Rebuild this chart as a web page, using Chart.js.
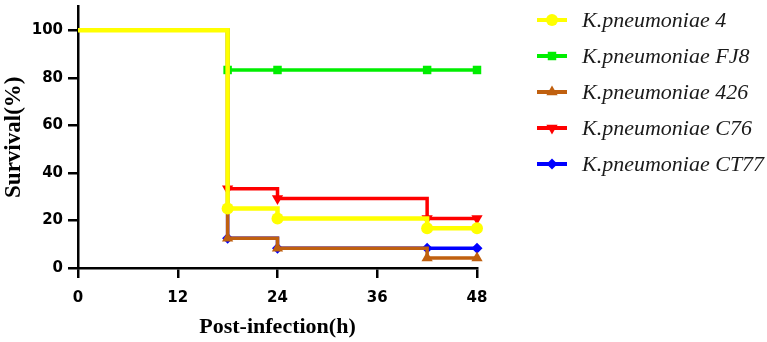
<!DOCTYPE html>
<html>
<head>
<meta charset="utf-8">
<script src="https://cdn.jsdelivr.net/npm/chart.js@4/dist/chart.umd.min.js"></script>
<style>
  html, body { margin: 0; padding: 0; background: #fff; }
  #wrap { width: 767px; height: 342px; position: relative; }
</style>
</head>
<body>
<div id="wrap"><canvas id="chart"></canvas></div>
<script>
/* Kaplan-Meier survival curves, K. pneumoniae strains */
const hours = [0, 18, 24, 42, 48];
const strains = ["K.pneumoniae 4", "K.pneumoniae FJ8", "K.pneumoniae 426", "K.pneumoniae C76", "K.pneumoniae CT77"];
const survival4 = [100, 25, 20.8, 16.7, 16.7];
const survivalFJ8 = [100, 83.3, 83.3, 83.3, 83.3];
const survival426 = [100, 12.5, 8.3, 4.2, 4.2];
const survivalC76 = [100, 33.3, 29.2, 20.8, 20.8];
const survivalCT77 = [100, 12.5, 8.3, 8.3, 8.3];
const xTicks = [0, 12, 24, 36, 48];
const yTicks = [0, 20, 40, 60, 80, 100];

const seriesValues = [survival4, survivalFJ8, survival426, survivalC76, survivalCT77];
const colors = ["#ffff00", "#00ee00", "#c0600f", "#ff0000", "#0000ff"];
const markers = [
  { style: "circle", radius: 6, rotation: 0 },
  { style: "rect", radius: 6, rotation: 0 },
  { style: "triangle", radius: 6.5, rotation: 0 },
  { style: "triangle", radius: 6.5, rotation: 180 },
  { style: "rectRot", radius: 5.5, rotation: 0 },
];

const datasets = strains.map((name, i) => ({
  label: name,
  data: hours.map((h, j) => ({ x: h, y: seriesValues[i][j] })),
  borderColor: colors[i],
  backgroundColor: colors[i],
  borderWidth: i === 0 ? 4.5 : 3.5,
  stepped: "before",
  pointStyle: markers[i].style,
  pointRotation: markers[i].rotation,
  pointRadius: hours.map((h) => (h === 0 ? 0 : markers[i].radius)),
  pointBorderWidth: 0,
  clip: false,
}));

// legend drawn by hand: line sample with the marker through it
const legendPlugin = {
  id: "kmLegend",
  afterDraw(chart) {
    const ctx = chart.ctx;
    ctx.save();
    datasets.forEach((ds, i) => {
      const y = 20 + i * 36;
      ctx.strokeStyle = ds.borderColor;
      ctx.lineWidth = 4;
      ctx.beginPath();
      ctx.moveTo(537, y);
      ctx.lineTo(567, y);
      ctx.stroke();
      ctx.fillStyle = ds.backgroundColor;
      Chart.helpers.drawPoint(ctx, {
        pointStyle: markers[i].style,
        rotation: markers[i].rotation,
        radius: markers[i].radius,
        borderWidth: 0,
      }, 552, y);
      ctx.fillStyle = "#1a1a1a";
      ctx.font = "italic 22px 'Liberation Serif'";
      ctx.textBaseline = "middle";
      ctx.textAlign = "left";
      ctx.fillText(ds.label, 582, y + 1);
    });
    ctx.restore();
  },
};

const tickFont = { family: "DejaVu Sans", weight: "bold", size: 15 };

new Chart(document.getElementById("chart"), {
  type: "line",
  data: { datasets },
  options: {
    responsive: true,
    maintainAspectRatio: false,
    animation: false,
    layout: { padding: { left: 0, top: 3, right: 290, bottom: 0 } },
    plugins: { legend: { display: false }, tooltip: { enabled: false } },
    scales: {
      x: {
        type: "linear",
        min: 0,
        max: 48,
        afterBuildTicks: (s) => { s.ticks = xTicks.map((v) => ({ value: v })); },
        afterFit: (s) => { s.height = 74; s.paddingLeft = 0; s.paddingRight = 0; },
        ticks: { color: "#000", padding: 11, font: tickFont },
        grid: { drawOnChartArea: false, tickLength: 10, color: "#000", lineWidth: 2.5 },
        border: { color: "#000", width: 2.5 },
        title: { display: true, text: "Post-infection(h)", color: "#000", padding: { top: 0, bottom: 1 },
          font: { family: "Liberation Serif", weight: "bold", size: 22 } },
      },
      y: {
        min: 0,
        max: 110,
        afterBuildTicks: (s) => { s.ticks = yTicks.map((v) => ({ value: v })); },
        afterFit: (s) => { s.width = 78; s.paddingTop = 0; s.paddingBottom = 0; },
        ticks: { color: "#000", padding: 5, font: tickFont },
        grid: { drawOnChartArea: false, tickLength: 10, color: "#000", lineWidth: 2.5 },
        border: { color: "#000", width: 2.5 },
        title: { display: true, text: "Survival(%)", color: "#000", padding: { top: 0, bottom: 0 },
          font: { family: "Liberation Serif", weight: "bold", size: 23 } },
      },
    },
  },
  plugins: [legendPlugin],
});
</script>
</body>
</html>
